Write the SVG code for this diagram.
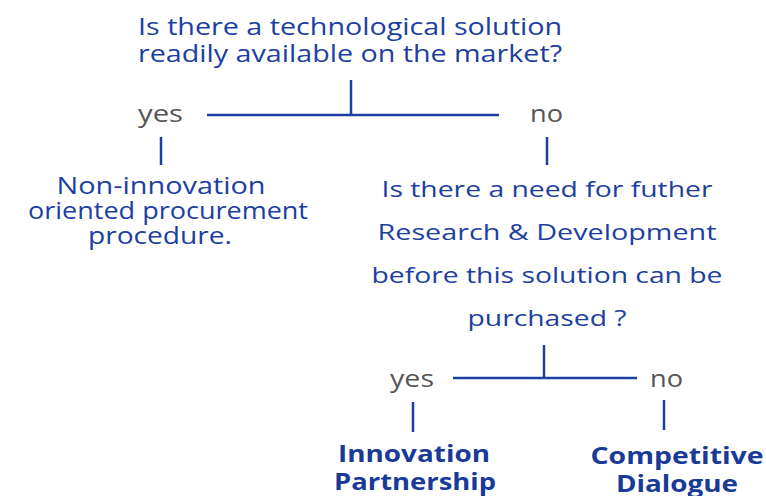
<svg xmlns="http://www.w3.org/2000/svg" width="766" height="496" viewBox="0 0 766 496">
<style>
.q{font-family:"Open Sans","Noto Sans","DejaVu Sans",sans-serif;fill:#1d40a0;text-anchor:middle}
.yn{font-family:"Open Sans","Noto Sans","DejaVu Sans",sans-serif;fill:#555555;font-size:24px}
.b{font-family:"Open Sans","Noto Sans","DejaVu Sans",sans-serif;fill:#1a3a98;font-weight:bold;font-size:24px;text-anchor:middle}
.ln{stroke:#1d40a0;stroke-width:2.5;fill:none}
</style>
<rect width="766" height="496" fill="#ffffff"/>
<g id="connectors">
<path class="ln" d="M351 80V115M207 115H499M161 137V165M547 137V165M544 345V378M453 378H637M413 402V432M664 400V430"/>
</g>
<g id="q1">
<text class="q" font-size="24" x="350" y="35" textLength="424" lengthAdjust="spacingAndGlyphs">Is there a technological solution</text>
<text class="q" font-size="24" x="350" y="62" textLength="424" lengthAdjust="spacingAndGlyphs">readily available on the market?</text>
</g>
<g id="yes1"><text class="yn" x="138" y="122" textLength="45" lengthAdjust="spacingAndGlyphs">yes</text></g>
<g id="no1"><text class="yn" x="530" y="122" textLength="33" lengthAdjust="spacingAndGlyphs">no</text></g>
<g id="nonInnovation">
<text class="q" font-size="24" x="161" y="194" textLength="209" lengthAdjust="spacingAndGlyphs">Non-innovation</text>
<text class="q" font-size="24" x="168" y="219" textLength="280" lengthAdjust="spacingAndGlyphs">oriented procurement</text>
<text class="q" font-size="24" x="160" y="244" textLength="144" lengthAdjust="spacingAndGlyphs">procedure.</text>
</g>
<g id="q2">
<text class="q" font-size="22" x="547" y="197" textLength="331" lengthAdjust="spacingAndGlyphs">Is there a need for futher</text>
<text class="q" font-size="22" x="547" y="240" textLength="339" lengthAdjust="spacingAndGlyphs">Research &amp; Development</text>
<text class="q" font-size="22" x="547" y="283" textLength="351" lengthAdjust="spacingAndGlyphs">before this solution can be</text>
<text class="q" font-size="22" x="547" y="326" textLength="159" lengthAdjust="spacingAndGlyphs">purchased ?</text>
</g>
<g id="yes2"><text class="yn" x="390" y="387" textLength="44" lengthAdjust="spacingAndGlyphs">yes</text></g>
<g id="no2"><text class="yn" x="650" y="387" textLength="33" lengthAdjust="spacingAndGlyphs">no</text></g>
<g id="innovationPartnership">
<text class="b" x="414" y="462" textLength="152" lengthAdjust="spacingAndGlyphs">Innovation</text>
<text class="b" x="415" y="490" textLength="162" lengthAdjust="spacingAndGlyphs">Partnership</text>
</g>
<g id="competitiveDialogue">
<text class="b" x="677" y="464" textLength="173" lengthAdjust="spacingAndGlyphs">Competitive</text>
<text class="b" x="677" y="492" textLength="122" lengthAdjust="spacingAndGlyphs">Dialogue</text>
</g>
</svg>
